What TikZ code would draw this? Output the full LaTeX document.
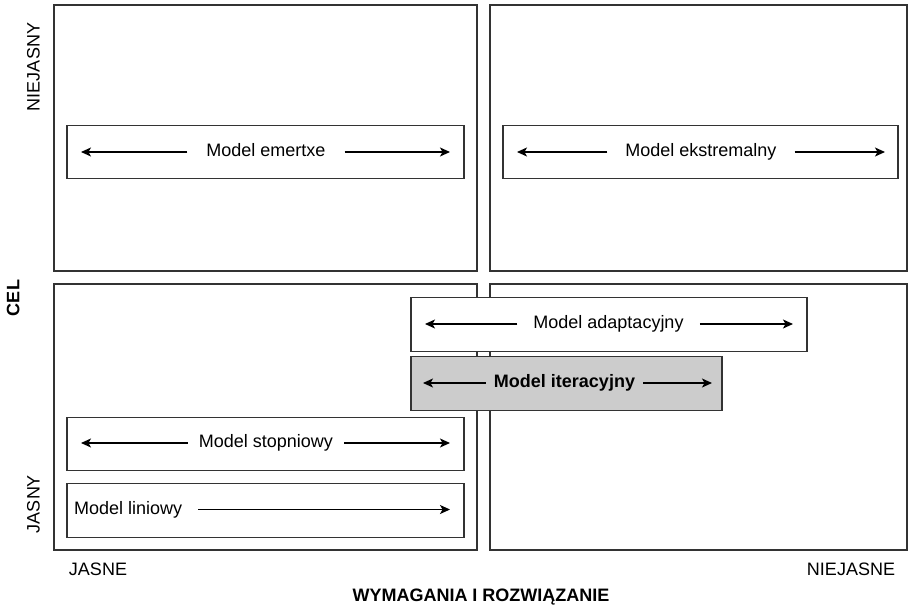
\documentclass[tikz,border=0pt]{standalone}
\usepackage{fontspec}
\setmainfont{Liberation Sans}
\usetikzlibrary{arrows.meta}
\definecolor{edge}{RGB}{51,51,51}
\definecolor{boxgray}{RGB}{204,204,204}
\begin{document}
\begin{tikzpicture}[x=1pt,y=-1pt,
  every node/.style={font=\fontsize{18}{21}\selectfont},
  quad/.style={draw=edge,line width=1.4pt,rectangle,outer sep=0pt,inner sep=0pt,minimum height=266pt},
  modelbox/.style={draw=edge,line width=1.3pt,fill=white,rectangle,outer sep=0pt,inner sep=0pt,minimum height=53.5pt},
  label/.style={inner xsep=9pt,inner ysep=0pt,text height=13pt,text depth=4pt},
  arr/.style={line width=1.2pt,draw=black,-{Stealth[length=10pt,width=9pt,inset=2.5pt]}},
  axis/.style={inner sep=0pt,text height=13pt,text depth=4pt}
]
\useasboundingbox (0,0) rectangle (908,607);

% four quadrants
\node[quad,minimum width=423pt] (qtl) at (265.5,138) {};
\node[quad,minimum width=417pt] (qtr) at (698.5,138) {};
\node[quad,minimum width=423pt] (qbl) at (265.5,417) {};
\node[quad,minimum width=417pt] (qbr) at (698.5,417) {};

% model boxes
\node[modelbox,minimum width=397pt] (bem) at (265.5,152) {};
\node[modelbox,minimum width=395pt] (bek) at (700.5,152) {};
\node[modelbox,minimum width=396pt] (bad) at (609,324.5) {};
\node[modelbox,minimum width=311pt,fill=boxgray] (bit) at (566.5,383.5) {};
\node[modelbox,minimum width=397pt] (bst) at (265.5,444) {};
\node[modelbox,minimum width=397pt] (bli) at (265.5,510.5) {};

% model labels
\node[label,inner xsep=19pt] (tem) at (266,152) {Model emertxe};
\node[label,inner xsep=18pt] (tek) at (701,152) {Model ekstremalny};
\node[label,inner xsep=16pt] (tad) at (608.5,324) {Model adaptacyjny};
\node[label,font=\fontsize{18}{21}\selectfont\bfseries,inner xsep=8pt] (tit) at (564.5,383) {Model iteracyjny};
\node[label,inner xsep=11pt] (tst) at (266,443) {Model stopniowy};
\node[label,anchor=west,inner xsep=7pt] (tli) at (67,509.5) {Model liniowy};

% arrow tips
\coordinate (em-l) at (81,152);
\coordinate (em-r) at (450,152);
\coordinate (ek-l) at (517,152);
\coordinate (ek-r) at (885,152);
\coordinate (ad-l) at (425,324);
\coordinate (ad-r) at (793,324);
\coordinate (it-l) at (423,383);
\coordinate (it-r) at (712,383);
\coordinate (st-l) at (81,443);
\coordinate (st-r) at (450,443);
\coordinate (li-r) at (450,509.5);

\draw[arr] (tem.west) -- (em-l);
\draw[arr] (tem.east) -- (em-r);
\draw[arr] (tek.west) -- (ek-l);
\draw[arr] (tek.east) -- (ek-r);
\draw[arr] (tad.west) -- (ad-l);
\draw[arr] (tad.east) -- (ad-r);
\draw[arr] (tit.west) -- (it-l);
\draw[arr] (tit.east) -- (it-r);
\draw[arr] (tst.west) -- (st-l);
\draw[arr] (tst.east) -- (st-r);
\draw[arr,shorten <=9pt] (tli.east) -- (li-r);

% axis labels
\node[axis,rotate=90] (yhi) at (35,67) {NIEJASNY};
\node[axis,rotate=90] (ylo) at (35,504) {JASNY};
\node[axis,rotate=90,font=\fontsize{18}{21}\selectfont\bfseries] (ycap) at (15,298) {CEL};
\node[axis] (xlo) at (98,571) {JASNE};
\node[axis] (xhi) at (851,571) {NIEJASNE};
\node[axis,font=\fontsize{18}{21}\selectfont\bfseries] (xcap) at (481,597) {WYMAGANIA I ROZWIĄZANIE};
\end{tikzpicture}
\end{document}
